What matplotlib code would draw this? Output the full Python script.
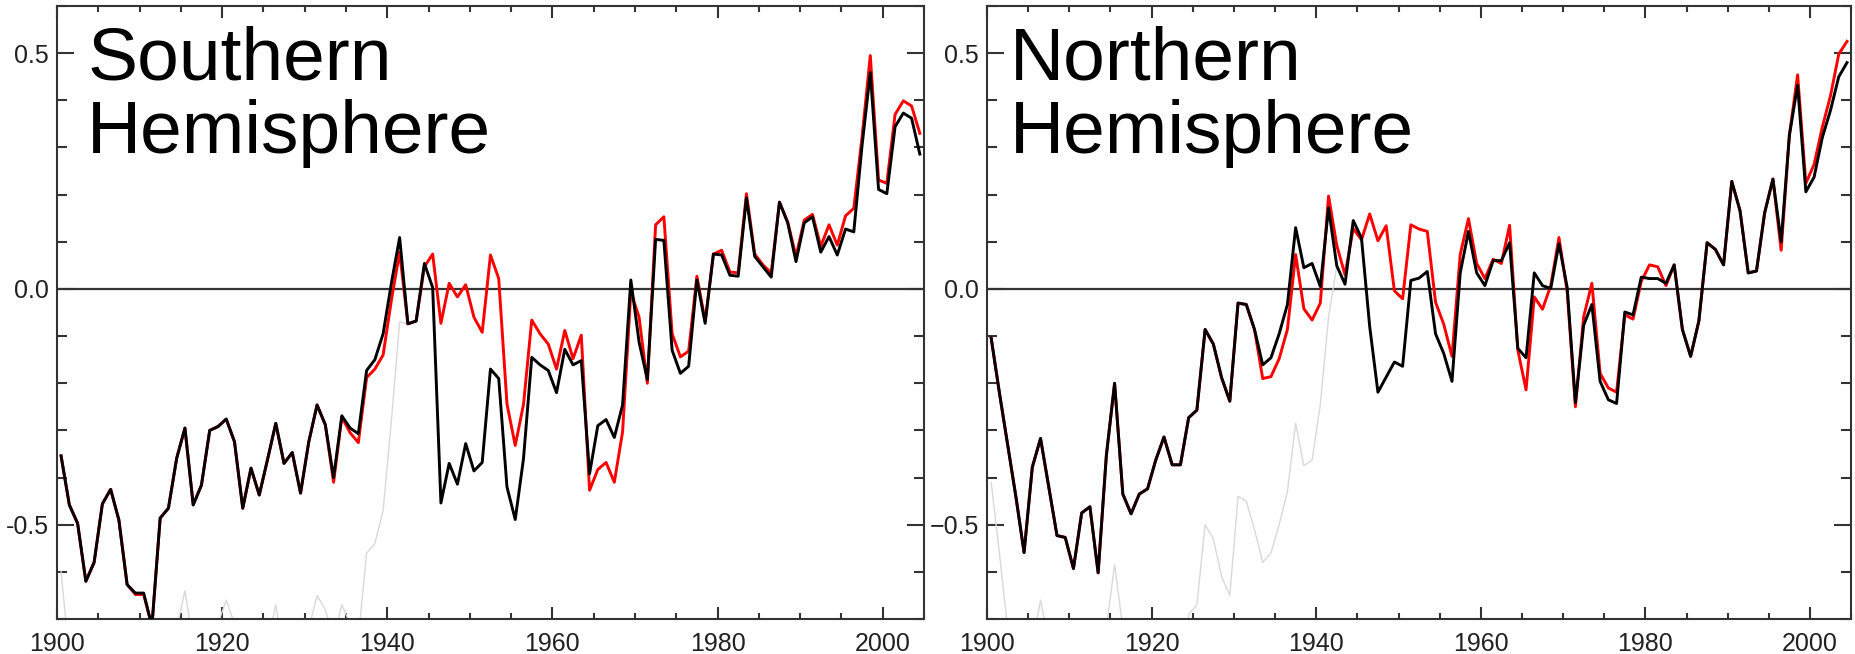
import numpy as np
import matplotlib
matplotlib.use("Agg")
import matplotlib.pyplot as plt
from matplotlib.ticker import MultipleLocator, FixedLocator, FixedFormatter

plt.rcParams['font.family'] = ['Liberation Sans', 'DejaVu Sans']

# annual values, 1900-2004 (plotted at mid-year)
anos = np.arange(1900, 2005)

sh_preto = [
    -0.354, -0.458, -0.497, -0.620, -0.580, -0.456, -0.425, -0.490, -0.627, -0.645,
    -0.645, -0.715, -0.486, -0.465, -0.359, -0.295, -0.458, -0.416, -0.300, -0.292,
    -0.276, -0.324, -0.465, -0.380, -0.437, -0.362, -0.285, -0.370, -0.347, -0.433,
    -0.324, -0.246, -0.288, -0.400, -0.269, -0.295, -0.307, -0.173, -0.150, -0.095,
    0.012, 0.109, -0.074, -0.068, 0.054, 0.003, -0.454, -0.370, -0.414, -0.328,
    -0.386, -0.368, -0.170, -0.190, -0.420, -0.489, -0.360, -0.145, -0.161, -0.173,
    -0.220, -0.128, -0.161, -0.152, -0.392, -0.290, -0.277, -0.315, -0.246, 0.019,
    -0.113, -0.192, 0.105, 0.103, -0.130, -0.179, -0.164, 0.019, -0.073, 0.074,
    0.072, 0.029, 0.027, 0.193, 0.069, 0.047, 0.025, 0.184, 0.140, 0.058,
    0.140, 0.153, 0.078, 0.111, 0.072, 0.127, 0.121, 0.304, 0.459, 0.211,
    0.202, 0.344, 0.373, 0.362, 0.286]

sh_vermelho = [
    -0.354, -0.458, -0.497, -0.620, -0.580, -0.456, -0.425, -0.490, -0.627, -0.648,
    -0.648, -0.715, -0.486, -0.465, -0.359, -0.295, -0.458, -0.416, -0.300, -0.292,
    -0.276, -0.324, -0.465, -0.380, -0.437, -0.362, -0.285, -0.370, -0.347, -0.433,
    -0.324, -0.246, -0.288, -0.410, -0.272, -0.305, -0.326, -0.188, -0.170, -0.140,
    -0.024, 0.078, -0.074, -0.068, 0.047, 0.074, -0.073, 0.012, -0.017, 0.009,
    -0.060, -0.092, 0.072, 0.022, -0.244, -0.332, -0.245, -0.066, -0.095, -0.117,
    -0.170, -0.088, -0.148, -0.098, -0.427, -0.383, -0.368, -0.410, -0.303, -0.006,
    -0.060, -0.200, 0.136, 0.153, -0.095, -0.144, -0.132, 0.027, -0.068, 0.074,
    0.082, 0.036, 0.034, 0.202, 0.074, 0.051, 0.034, 0.184, 0.142, 0.069,
    0.146, 0.158, 0.090, 0.136, 0.093, 0.155, 0.171, 0.322, 0.495, 0.231,
    0.224, 0.370, 0.399, 0.388, 0.330]

# light grey series, only visible up to the early 1940s
sh_cinza = [
    -0.60, -0.78, -0.85, -0.85, -0.80, -0.75, -0.72, -0.80, -0.85, -0.85,
    -0.85, -0.85, -0.85, -0.80, -0.72, -0.64, -0.75, -0.85, -0.78, -0.71,
    -0.66, -0.71, -0.85, -0.85, -0.85, -0.75, -0.67, -0.78, -0.85, -0.85,
    -0.72, -0.65, -0.68, -0.74, -0.67, -0.71, -0.74, -0.56, -0.54, -0.47,
    -0.28, -0.07, -0.074]

nh_preto = [
    -0.104, -0.220, -0.330, -0.440, -0.559, -0.378, -0.317, -0.420, -0.523, -0.527,
    -0.593, -0.475, -0.462, -0.602, -0.353, -0.200, -0.435, -0.477, -0.435, -0.424,
    -0.363, -0.314, -0.373, -0.373, -0.273, -0.257, -0.086, -0.117, -0.188, -0.238,
    -0.030, -0.033, -0.086, -0.161, -0.146, -0.095, -0.033, 0.130, 0.045, 0.054,
    0.005, 0.172, 0.049, 0.010, 0.145, 0.108, -0.080, -0.219, -0.187, -0.155,
    -0.164, 0.018, 0.023, 0.037, -0.095, -0.137, -0.196, 0.034, 0.122, 0.034,
    0.007, 0.060, 0.060, 0.098, -0.126, -0.146, 0.034, 0.007, 0.001, 0.096,
    0.003, -0.241, -0.077, -0.033, -0.196, -0.235, -0.243, -0.049, -0.055, 0.025,
    0.022, 0.022, 0.012, 0.051, -0.086, -0.143, -0.068, 0.098, 0.084, 0.051,
    0.228, 0.166, 0.034, 0.038, 0.162, 0.233, 0.100, 0.326, 0.432, 0.206,
    0.237, 0.321, 0.379, 0.450, 0.480]

nh_vermelho = [
    -0.104, -0.220, -0.330, -0.440, -0.559, -0.378, -0.317, -0.420, -0.523, -0.527,
    -0.593, -0.475, -0.462, -0.602, -0.353, -0.200, -0.435, -0.477, -0.435, -0.424,
    -0.363, -0.314, -0.373, -0.373, -0.273, -0.257, -0.086, -0.117, -0.188, -0.238,
    -0.030, -0.033, -0.086, -0.190, -0.186, -0.148, -0.086, 0.073, -0.042, -0.066,
    -0.030, 0.197, 0.092, 0.030, 0.128, 0.104, 0.159, 0.102, 0.134, -0.004,
    -0.021, 0.136, 0.127, 0.122, -0.028, -0.075, -0.143, 0.073, 0.149, 0.054,
    0.022, 0.063, 0.054, 0.135, -0.130, -0.214, -0.017, -0.043, 0.007, 0.109,
    -0.006, -0.250, -0.059, 0.012, -0.179, -0.210, -0.219, -0.055, -0.064, 0.016,
    0.051, 0.047, 0.007, 0.051, -0.086, -0.143, -0.068, 0.098, 0.084, 0.051,
    0.228, 0.166, 0.034, 0.038, 0.162, 0.233, 0.082, 0.326, 0.454, 0.224,
    0.264, 0.343, 0.410, 0.498, 0.525]

nh_cinza = [
    -0.41, -0.56, -0.72, -0.85, -0.80, -0.75, -0.66, -0.75, -0.85, -0.85,
    -0.85, -0.85, -0.85, -0.85, -0.72, -0.585, -0.72, -0.85, -0.85, -0.85,
    -0.85, -0.85, -0.85, -0.85, -0.69, -0.67, -0.50, -0.53, -0.61, -0.65,
    -0.44, -0.45, -0.51, -0.58, -0.56, -0.50, -0.43, -0.285, -0.375, -0.363,
    -0.245, -0.06, 0.049]

paineis = [
    ("Southern\nHemisphere", sh_preto, sh_vermelho, sh_cinza,
     ['-0.5', '0.0', '0.5'], [0.0307, 0.0535, 0.4674, 0.9373], 0.035),
    ("Northern\nHemisphere", nh_preto, nh_vermelho, nh_cinza,
     ['\u22120.5', '0.0', '0.5'], [0.5321, 0.0535, 0.4658, 0.9373], 0.026),
]

fig = plt.figure(figsize=(18.55, 6.54), dpi=100)

cor_eixo = '#333333'
for titulo, preto, vermelho, cinza, ylabels, pos, tx in paineis:
    ax = fig.add_axes(pos)
    x = anos + 0.5
    ax.axhline(0, color=cor_eixo, lw=1.6, zorder=1)
    ax.plot(x[:len(cinza)], cinza, color='#d9d9d9', lw=1.0, zorder=2)
    ax.plot(x, vermelho, color='#ff0000', lw=2.1, zorder=3)
    ax.plot(x, preto, color='black', lw=2.1, zorder=4)

    ax.set_xlim(1900, 2005)
    ax.set_ylim(-0.70, 0.60)

    ax.xaxis.set_major_locator(MultipleLocator(20))
    ax.xaxis.set_minor_locator(MultipleLocator(5))
    ax.yaxis.set_major_locator(FixedLocator([-0.5, 0.0, 0.5]))
    ax.yaxis.set_major_formatter(FixedFormatter(ylabels))
    ax.yaxis.set_minor_locator(MultipleLocator(0.1))

    ax.tick_params(axis='both', which='both', direction='in',
                   top=True, right=True, color=cor_eixo, width=1.5,
                   labelcolor='#222222', labelsize=18)
    ax.tick_params(axis='x', which='major', length=8.5, pad=9)
    ax.tick_params(axis='x', which='minor', length=4.5)
    ax.tick_params(axis='y', which='major', length=12, pad=6)
    ax.tick_params(axis='y', which='minor', length=7)

    for sp in ax.spines.values():
        sp.set_color(cor_eixo)
        sp.set_linewidth(1.5)

    ax.text(tx, 0.968, titulo, transform=ax.transAxes, ha='left', va='top',
            fontsize=54, linespacing=1.08, color='black', zorder=5)

plt.savefig("out.png", dpi=100)
